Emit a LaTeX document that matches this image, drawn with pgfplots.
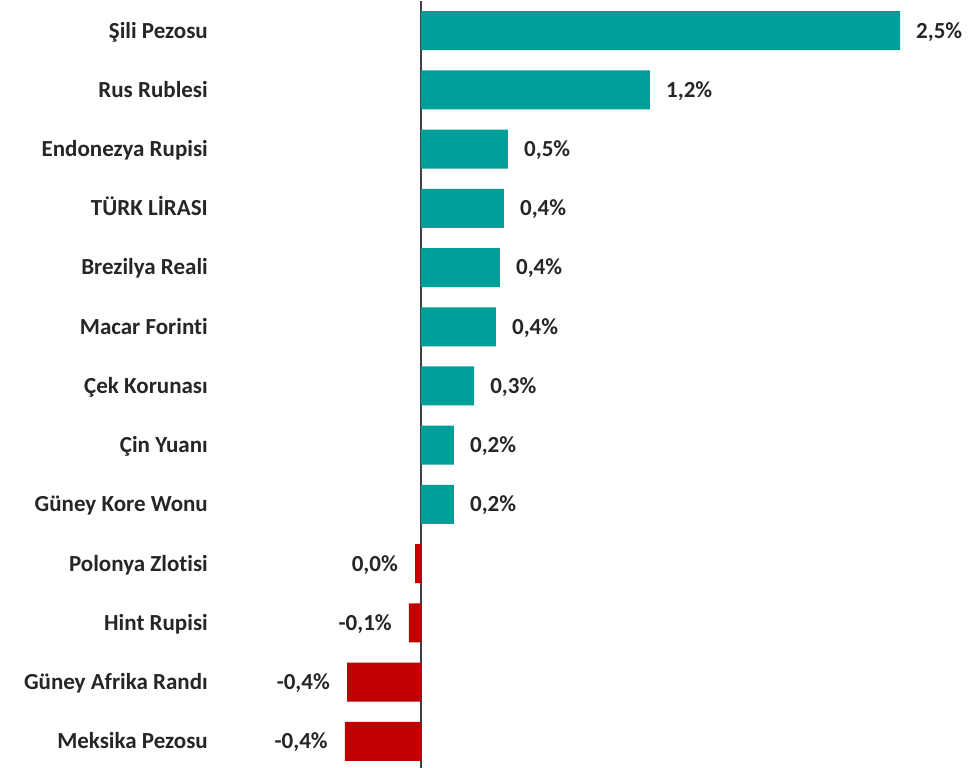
\documentclass[border=0pt]{standalone}
\usepackage{pgfplots}
\pgfplotsset{compat=1.18}
\usepackage{fontspec}
\setmainfont{Carlito}[Ligatures={NoCommon}]
\definecolor{tealbar}{HTML}{009E99}
\definecolor{redbar}{HTML}{C00000}
\definecolor{txt}{HTML}{262626}
\definecolor{axisgray}{HTML}{404040}

\pgfplotstableread{
x y label
2.500 12 2,5
1.195 11 1,2
0.454 10 0,5
0.433 9 0,4
0.412 8 0,4
0.391 7 0,4
0.277 6 0,3
0.172 5 0,2
0.172 4 0,2
}\postable

\pgfplotstableread{
x y label
-0.031 3 0,0
-0.063 2 -0,1
-0.386 1 -0,4
-0.397 0 -0,4
}\negtable

\begin{document}
\begin{tikzpicture}
\useasboundingbox (-215pt,3pt) rectangle (763pt,771pt);
\begin{axis}[
  at={(0pt,0pt)}, anchor=south west,
  scale only axis, width=763pt, height=770pt,
  xmin=-1.075, xmax=2.907, ymin=-0.5, ymax=12.5,
  clip=false,
  axis line style={draw=none},
  major tick length=0pt,
  xtick=\empty,
  ytick={0,...,12},
  yticklabels={Meksika Pezosu, Güney Afrika Randı, Hint Rupisi, Polonya Zlotisi, Güney Kore Wonu, Çin Yuanı, Çek Korunası, Macar Forinti, Brezilya Reali, TÜRK LİRASI, Endonezya Rupisi, Rus Rublesi, Şili Pezosu},
  y tick label style={font=\bfseries\fontsize{23}{23}\selectfont, text=txt, anchor=east, inner sep=0pt, xshift=-7pt, text height=14.8pt, text depth=0pt},
  extra x ticks={0},
  extra x tick labels={},
  extra x tick style={grid=major, major grid style={draw=axisgray, line width=1.5pt}},
  xbar, bar width=39pt, bar shift=0pt,
  point meta=explicit symbolic,
  nodes near coords={\pgfplotspointmeta\%},
  every node near coord/.append style={font=\bfseries\fontsize{23}{23}\selectfont, text=txt, inner sep=0pt, text height=14.8pt, text depth=0pt},
]
\addplot[fill=tealbar, draw=none, every node near coord/.append style={anchor=west, xshift=16pt}] table[x=x, y=y, meta=label] {\postable};
\addplot[fill=redbar, draw=none, every node near coord/.append style={anchor=east, xshift=-17pt}] table[x=x, y=y, meta=label] {\negtable};
\end{axis}
\end{tikzpicture}
\end{document}
